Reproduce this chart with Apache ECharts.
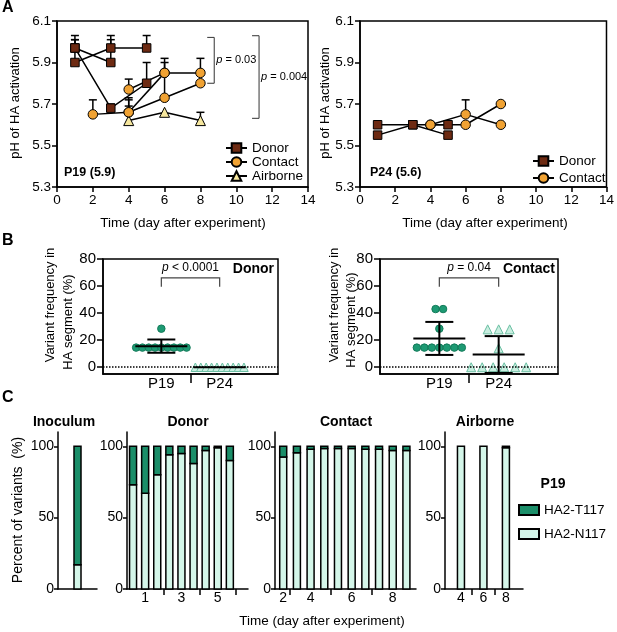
<!DOCTYPE html>
<html>
<head>
<meta charset="utf-8">
<script src="https://cdn.jsdelivr.net/npm/echarts@6.0.0/dist/echarts.min.js"></script>
<style>
html, body { margin: 0; padding: 0; background: #fff; }
#main { width: 617px; height: 632px; }
</style>
</head>
<body>
<div id="main"></div>
<script>
// ---- data ----
// A: pH of HA activation, one list per animal: [day, pH, SD]
var p19Donor = [
    [[1, 5.97, 0.06], [3, 5.90, 0.11]],
    [[1, 5.90, 0.11], [3, 5.97, 0.06], [5, 5.97, 0.06]],
    [[1, 5.97, 0.04], [3, 5.68, 0.02], [5, 5.80, 0.10]]
];
var p19Contact = [
    [[2, 5.65, 0.07], [4, 5.66, 0.07], [6, 5.73, 0.12], [8, 5.80, 0]],
    [[4, 5.77, 0.05], [6, 5.85, 0.07], [8, 5.85, 0.07]],
    [[4, 5.66, 0.06], [6, 5.85, 0.05]]
];
var p19Airborne = [
    [[4, 5.62, 0.07], [6, 5.66, 0], [8, 5.62, 0.04]]
];
var p24Donor = [
    [[1, 5.60, 0], [3, 5.60, 0], [5, 5.60, 0]],
    [[1, 5.55, 0], [3, 5.60, 0], [5, 5.55, 0]]
];
var p24Contact = [
    [[4, 5.60, 0], [6, 5.65, 0.07], [8, 5.60, 0]],
    [[4, 5.60, 0], [6, 5.60, 0], [8, 5.70, 0]]
];
var pHTicks = [5.3, 5.5, 5.7, 5.9, 6.1];

// B: variant frequency in HA segment (%)
var bGroups = ['P19', 'P24'];
var freqTicks = [0, 20, 40, 60, 80];
var donorP19 = [14.5, 14.5, 14.5, 14.5, 14.5, 14.5, 14.5, 14.5, 14.5, 28.5];
var donorP24 = [0, 0, 0, 0, 0, 0, 0, 0, 0, 0];
var contactP19 = [14.5, 14.5, 14.5, 14.5, 14.5, 14.5, 14.5, 28.5, 43, 43];
var contactP24 = [0, 0, 0, 0, 0, 0, 14, 28, 28, 28];
var donorMean = [15.6, 0];
var donorSD = [4.9, 0];
var contactMean = [21.3, 9.4];
var contactSD = [12.2, 13.6];

// C: percent of variants
var pctTicks = [0, 50, 100];
var inocN117 = [17];
var inocT117 = [83];
var donorDays = ['1', '3', '5'];
var donorPerDay = [3, 3, 3];
var donorN117 = [73, 67, 80, 94, 95, 88, 97, 99, 90];
var donorT117 = [27, 33, 20, 6, 5, 12, 3, 1, 10];
var contactDays = ['2', '4', '6', '8'];
var contactPerDay = [1, 3, 3, 3];
var contactN117 = [92.5, 95.5, 98, 98.5, 98.5, 98.5, 98, 98, 97, 97];
var contactT117 = [7.5, 4.5, 2, 1.5, 1.5, 1.5, 2, 2, 3, 3];
var airborneDays = ['4', '6', '8'];
var airbornePerDay = [1, 1, 1];
var airborneN117 = [100, 100, 99];
var airborneT117 = [0, 0, 1];

// ---- styles ----
var FONT = '"Liberation Sans", Arial, Helvetica, sans-serif';
var donorColor = '#6d2a12';
var contactColor = '#f0a233';
var airborneColor = '#f6e79e';
var t117Color = '#1b8e69';
var n117Color = '#d4f6e9';
var circleGreen = '#1d9a73';
var triMint = '#c9eee0';

var chart = echarts.init(document.getElementById('main'));

var blackLine = { color: '#000', width: 1.5 };

function axisBase(gi) {
    return {
        gridIndex: gi,
        splitLine: { show: false },
        axisLine: { show: true, onZero: false, lineStyle: blackLine },
        axisTick: { show: true, length: 5, lineStyle: blackLine },
        axisLabel: { color: '#000', fontFamily: FONT }
    };
}

function pHX(gi) {
    var a = axisBase(gi);
    a.type = 'value'; a.min = 0; a.max = 14; a.interval = 2;
    a.axisLabel.fontSize = 13.5; a.axisLabel.margin = 6;
    return a;
}
function pHY(gi) {
    var a = axisBase(gi);
    a.type = 'value'; a.min = 5.3; a.max = 6.1;
    a.axisTick.customValues = pHTicks;
    a.axisLabel.customValues = pHTicks;
    a.axisLabel.fontSize = 13.5; a.axisLabel.margin = 6;
    a.axisLabel.formatter = function (v) { return v.toFixed(1); };
    return a;
}
function freqX(gi) {
    var a = axisBase(gi);
    a.type = 'value'; a.min = -1; a.max = 2;
    a.axisTick.customValues = [0.5];
    a.axisTick.length = 9;
    a.axisLabel.customValues = [0, 1];
    a.axisLabel.fontSize = 15; a.axisLabel.margin = 2;
    a.axisLabel.formatter = function (v) { return bGroups[Math.round(v)]; };
    return a;
}
function freqY(gi) {
    var a = axisBase(gi);
    a.type = 'value'; a.min = -5; a.max = 80;
    a.axisTick.customValues = freqTicks; a.axisTick.length = 6;
    a.axisLabel.customValues = freqTicks;
    a.axisLabel.fontSize = 15; a.axisLabel.margin = 7;
    return a;
}
function pctY(gi) {
    var a = axisBase(gi);
    a.type = 'value'; a.min = 0; a.max = 110;
    a.axisTick.customValues = pctTicks; a.axisTick.length = 4;
    a.axisLabel.customValues = pctTicks;
    a.axisLabel.fontSize = 14; a.axisLabel.margin = 4;
    return a;
}
// day axis for panel C: bars sit at index + 0.5, days label the middle of each group
function dayX(gi, perDay, labels, min, max, tickAtEnd) {
    var a = axisBase(gi);
    var centers = [], bounds = [], pos = 0;
    perDay.forEach(function (n) { centers.push(pos + n / 2); pos += n; bounds.push(pos); });
    if (!tickAtEnd) bounds.pop();
    a.type = 'value'; a.min = min; a.max = max;
    a.axisTick.customValues = bounds; a.axisTick.length = 6;
    a.axisLabel.customValues = centers;
    a.axisLabel.fontSize = 14; a.axisLabel.margin = 2;
    a.axisLabel.formatter = function (v) {
        for (var i = 0; i < centers.length; i++) if (Math.abs(centers[i] - v) < 1e-6) return labels[i];
        return '';
    };
    return a;
}
function plainX(gi, min, max) {
    var a = axisBase(gi);
    a.type = 'value'; a.min = min; a.max = max;
    a.axisTick.show = false; a.axisLabel.show = false;
    return a;
}

// ---- series builders ----
function animalLines(groups, name, symbol, size, color, gi) {
    return groups.map(function (g) {
        return {
            type: 'line', name: name, xAxisIndex: gi, yAxisIndex: gi,
            data: g.map(function (p) { return [p[0], p[1]]; }),
            symbol: symbol, symbolSize: size, z: 3,
            lineStyle: { color: '#000', width: 1.5 },
            itemStyle: { color: color, borderColor: '#000', borderWidth: 1 },
            emphasis: { disabled: true }
        };
    });
}
function errItem(params, api) {
    var x = api.value(0), y = api.value(1), sd = api.value(2);
    var p0 = api.coord([x, y]), p1 = api.coord([x, y + sd]);
    var st = { stroke: '#000', lineWidth: 1.5 };
    return {
        type: 'group', children: [
            { type: 'line', shape: { x1: p0[0], y1: p0[1], x2: p1[0], y2: p1[1] }, style: st },
            { type: 'line', shape: { x1: p1[0] - 4, y1: p1[1], x2: p1[0] + 4, y2: p1[1] }, style: st }
        ]
    };
}
function errorBars(groupLists, gi) {
    var pts = [];
    groupLists.forEach(function (groups) {
        groups.forEach(function (g) {
            g.forEach(function (p) { if (p[2] > 0) pts.push(p); });
        });
    });
    return {
        type: 'custom', xAxisIndex: gi, yAxisIndex: gi, z: 2, silent: true,
        encode: { x: 0, y: 1 }, data: pts, renderItem: errItem
    };
}
// vertical significance bracket with label, data: [x, yLow, yHigh]
function bracketV(gi, x, lo, hi, label) {
    return {
        type: 'custom', xAxisIndex: gi, yAxisIndex: gi, z: 4, silent: true,
        encode: { x: 0, y: [1, 2] }, data: [[x, lo, hi]],
        renderItem: function (params, api) {
            var a = api.coord([api.value(0), api.value(2)]);
            var b = api.coord([api.value(0), api.value(1)]);
            return {
                type: 'group', children: [
                    { type: 'polyline', shape: { points: [[a[0] - 7, a[1]], a, b, [b[0] - 7, b[1]]] },
                      style: { stroke: '#333', lineWidth: 1, fill: null } },
                    { type: 'text', x: a[0] + 2, y: (a[1] + b[1]) / 2,
                      style: { text: '{i|p} = ' + label, fill: '#000', fontSize: 11, fontFamily: FONT,
                               align: 'left', verticalAlign: 'middle', textAlign: 'left', textVerticalAlign: 'middle',
                               rich: { i: { fontStyle: 'italic', fontSize: 11, fontFamily: FONT } } } }
                ]
            };
        }
    };
}
// horizontal bracket, data: [x0, x1, yLow, yHigh]
function bracketH(gi, lo, hi, label) {
    return {
        type: 'custom', xAxisIndex: gi, yAxisIndex: gi, z: 4, silent: true,
        encode: { x: [0, 1], y: [2, 3] }, data: [[0, 1, lo, hi]],
        renderItem: function (params, api) {
            var a = api.coord([api.value(0), api.value(2)]);
            var b = api.coord([api.value(0), api.value(3)]);
            var c = api.coord([api.value(1), api.value(3)]);
            var d = api.coord([api.value(1), api.value(2)]);
            return {
                type: 'group', children: [
                    { type: 'polyline', shape: { points: [a, b, c, d] },
                      style: { stroke: '#444', lineWidth: 1.2, fill: null } },
                    { type: 'text', x: (b[0] + c[0]) / 2, y: b[1] - 4,
                      style: { text: '{i|p} ' + label, fill: '#000', fontSize: 12, fontFamily: FONT,
                               align: 'center', verticalAlign: 'bottom', textAlign: 'center', textVerticalAlign: 'bottom',
                               rich: { i: { fontStyle: 'italic', fontSize: 12, fontFamily: FONT } } } }
                ]
            };
        }
    };
}
// points spread sideways when they share a value
function swarm(values, xPos, spacing) {
    var counts = {}, seen = {};
    values.forEach(function (v) { counts[v] = (counts[v] || 0) + 1; });
    return values.map(function (v) {
        seen[v] = seen[v] === undefined ? 0 : seen[v] + 1;
        return { value: [xPos, v], symbolOffset: [(seen[v] - (counts[v] - 1) / 2) * spacing, 0] };
    });
}
function dots(gi, values, xPos, spacing, symbol, size, fill, stroke, zeroLine) {
    var s = {
        type: 'scatter', xAxisIndex: gi, yAxisIndex: gi, z: 3, silent: true,
        data: swarm(values, xPos, spacing), symbol: symbol, symbolSize: size,
        itemStyle: { color: fill, borderColor: stroke, borderWidth: 1, opacity: 1 }
    };
    if (zeroLine) {
        s.markLine = {
            silent: true, symbol: 'none', label: { show: false },
            lineStyle: { type: 'dotted', color: '#000', width: 1.5 },
            data: [{ yAxis: 0 }]
        };
    }
    return s;
}
function meanSd(gi, means, sds) {
    return {
        type: 'custom', xAxisIndex: gi, yAxisIndex: gi, z: 5, silent: true,
        encode: { x: 0, y: 1 },
        data: means.map(function (m, i) { return [i, m, sds[i]]; }),
        renderItem: function (params, api) {
            var x = api.value(0), m = api.value(1), sd = api.value(2);
            var pm = api.coord([x, m]);
            var st = { stroke: '#000', lineWidth: 2 };
            var kids = [{ type: 'line', shape: { x1: pm[0] - 26, y1: pm[1], x2: pm[0] + 26, y2: pm[1] }, style: st }];
            if (sd > 0) {
                var pt = api.coord([x, m + sd]), pb = api.coord([x, m - sd]);
                kids.push({ type: 'line', shape: { x1: pt[0], y1: pt[1], x2: pb[0], y2: pb[1] }, style: st });
                kids.push({ type: 'line', shape: { x1: pt[0] - 14, y1: pt[1], x2: pt[0] + 14, y2: pt[1] }, style: st });
                kids.push({ type: 'line', shape: { x1: pb[0] - 14, y1: pb[1], x2: pb[0] + 14, y2: pb[1] }, style: st });
            }
            return { type: 'group', children: kids };
        }
    };
}
// stacked percentage bars: N117 from 0, T117 on top of it; data [x, N117, T117]
function stackedBars(gi, n117, t117) {
    var data = n117.map(function (v, i) { return [i + 0.5, v, t117[i]]; });
    function seg(name, color, top) {
        return {
            type: 'custom', name: name, xAxisIndex: gi, yAxisIndex: gi, z: top ? 3 : 2, silent: true,
            encode: { x: 0, y: [1, 2] }, data: data,
            itemStyle: { color: color, borderColor: '#000', borderWidth: 1.5 },
            renderItem: function (params, api) {
                var x = api.value(0), n = api.value(1), t = api.value(2);
                var lo = top ? n : 0, hi = top ? n + t : n;
                if (hi - lo <= 0) return null;
                var p0 = api.coord([x, lo]), p1 = api.coord([x, hi]);
                return {
                    type: 'rect',
                    shape: { x: p0[0] - 3.5, y: p1[1], width: 7, height: p0[1] - p1[1] },
                    style: { fill: color, stroke: '#000', lineWidth: 1.5 }
                };
            }
        };
    }
    return [seg('HA2-N117', n117Color, false), seg('HA2-T117', t117Color, true)];
}

// ---- text placed on the page ----
function txt(x, y, s, size, bold, align, rot) {
    return {
        type: 'text', x: x, y: y, rotation: rot || 0, silent: true,
        style: {
            text: s, fill: '#000', fontSize: size, fontFamily: FONT, fontWeight: bold ? 'bold' : 'normal',
            align: align || 'center', verticalAlign: 'middle',
            textAlign: align || 'center', textVerticalAlign: 'middle'
        }
    };
}
var R = Math.PI / 2;

var boxGrid = { show: true, borderColor: '#000', borderWidth: 1.5, backgroundColor: 'transparent' };
function g(l, t, w, h, box) {
    var o = { left: l, top: t, width: w, height: h, containLabel: false };
    if (box) Object.assign(o, boxGrid);
    return o;
}

var series = [];
series.push(errorBars([p19Airborne, p19Contact, p19Donor], 0));
series = series.concat(animalLines(p19Airborne, 'Airborne', 'triangle', 10, airborneColor, 0));
series = series.concat(animalLines(p19Contact, 'Contact', 'circle', 9.5, contactColor, 0));
series = series.concat(animalLines(p19Donor, 'Donor', 'rect', 8.5, donorColor, 0));
series.push(bracketV(0, 8.77, 5.80, 6.021, '0.03'));
series.push(bracketV(0, 11.27, 5.631, 6.029, '0.004'));

series.push(errorBars([p24Contact, p24Donor], 1));
series = series.concat(animalLines(p24Contact, 'Contact', 'circle', 9.5, contactColor, 1));
series = series.concat(animalLines(p24Donor, 'Donor', 'rect', 8.5, donorColor, 1));

series.push(dots(2, donorP19, 0, 6.3, 'circle', 7.5, circleGreen, '#137a59', true));
series.push(dots(2, donorP24, 1, 5.4, 'triangle', 8.5, triMint, '#6bbfa3', false));
series.push(meanSd(2, donorMean, donorSD));
series.push(bracketH(2, 59.5, 66, '< 0.0001'));

series.push(dots(3, contactP19, 0, 7.5, 'circle', 7.5, circleGreen, '#137a59', true));
series.push(dots(3, contactP24, 1, 11, 'triangle', 9, triMint, '#6bbfa3', false));
series.push(meanSd(3, contactMean, contactSD));
series.push(bracketH(3, 59.5, 66, '= 0.04'));

series = series.concat(stackedBars(4, inocN117, inocT117));
series = series.concat(stackedBars(5, donorN117, donorT117));
series = series.concat(stackedBars(6, contactN117, contactT117));
series = series.concat(stackedBars(7, airborneN117, airborneT117));

var legendText = { fontSize: 13.5, color: '#000', fontFamily: FONT };

var option = {
    animation: false,
    textStyle: { fontFamily: FONT },
    grid: [
        g(57, 21, 251, 166, true),
        g(360, 21, 250, 166, true),
        g(103, 259, 175, 115, true),
        g(380, 259, 178, 115, true),
        g(58, 432, 39, 157),
        g(127, 432, 121, 157),
        g(275, 432, 141, 157),
        g(445, 432, 78, 157)
    ],
    xAxis: [
        pHX(0), pHX(1),
        freqX(2), freqX(3),
        plainX(4, 0, 1),
        dayX(5, donorPerDay, donorDays, 0, 10, true),
        dayX(6, contactPerDay, contactDays, -0.1, 10.2, false),
        dayX(7, airbornePerDay, airborneDays, -0.21, 3.26, false)
    ],
    yAxis: [
        pHY(0), pHY(1),
        freqY(2), freqY(3),
        pctY(4), pctY(5), pctY(6), pctY(7)
    ],
    legend: [
        { data: ['Donor', 'Contact', 'Airborne'], orient: 'vertical', left: 220, top: 136,
          itemGap: 0, itemWidth: 21, itemHeight: 12, selectedMode: false, textStyle: legendText },
        { data: ['Donor', 'Contact'], orient: 'vertical', left: 527, top: 149,
          itemGap: 3, itemWidth: 21, itemHeight: 12, selectedMode: false, textStyle: legendText },
        { data: ['HA2-T117', 'HA2-N117'], orient: 'vertical', left: 513, top: 498, icon: 'rect',
          itemGap: 10, itemWidth: 20, itemHeight: 10, selectedMode: false, textStyle: legendText }
    ],
    graphic: [
        txt(2, 8, 'A', 16, true, 'left'),
        txt(2, 241, 'B', 16, true, 'left'),
        txt(2, 398, 'C', 16, true, 'left'),
        txt(15, 103, 'pH of HA activation', 13, false, 'center', R),
        txt(325, 103, 'pH of HA activation', 13, false, 'center', R),
        txt(183, 223, 'Time (day after experiment)', 13.5),
        txt(485, 223, 'Time (day after experiment)', 13.5),
        txt(64, 173, 'P19 (5.9)', 12.5, true, 'left'),
        txt(370, 173, 'P24 (5.6)', 12.5, true, 'left'),
        txt(50, 305, 'Variant frequency in', 13, false, 'center', R),
        txt(68, 322, 'HA segment (%)', 13, false, 'center', R),
        txt(334, 305, 'Variant frequency in', 13, false, 'center', R),
        txt(351, 320, 'HA segment (%)', 13, false, 'center', R),
        txt(274, 269, 'Donor', 14, true, 'right'),
        txt(555, 269, 'Contact', 14, true, 'right'),
        txt(64, 422, 'Inoculum', 14, true),
        txt(188, 422, 'Donor', 14, true),
        txt(346, 422, 'Contact', 14, true),
        txt(485, 422, 'Airborne', 14, true),
        txt(553, 484, 'P19', 14, true),
        txt(18, 510, 'Percent of variants  (%)', 14, false, 'center', R),
        txt(322, 621, 'Time (day after experiment)', 13.5)
    ],
    series: series
};

chart.setOption(option);
</script>
</body>
</html>
